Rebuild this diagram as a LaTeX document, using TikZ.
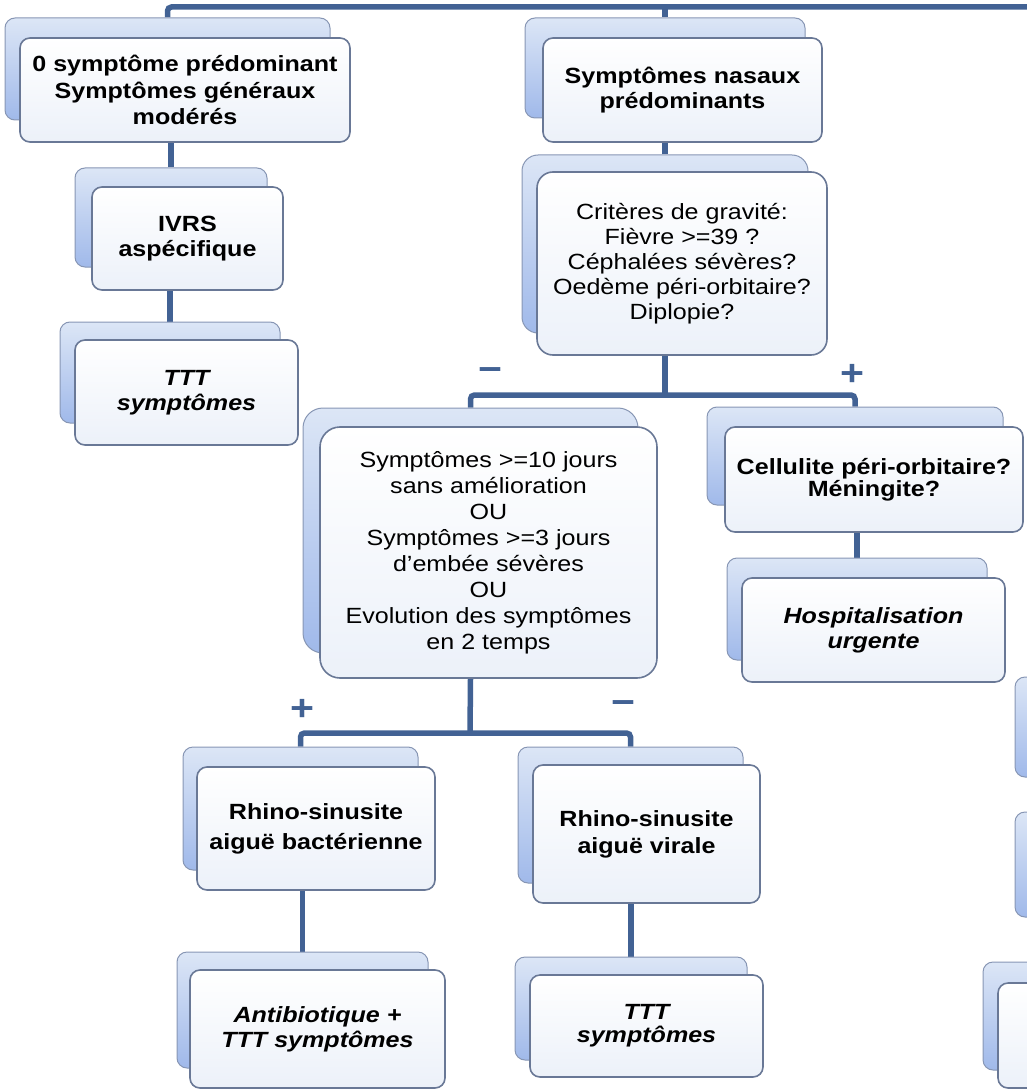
\documentclass[tikz,border=0pt]{standalone}
\usepackage{fontspec}
\setmainfont{Liberation Sans}[FakeStretch=1.14]
\usepackage{tikz}
\usetikzlibrary{backgrounds}

\definecolor{trait}{RGB}{66,98,148}
\definecolor{bordcarte}{RGB}{105,120,150}
\definecolor{basecarte}{RGB}{236,241,249}
\definecolor{bordfond}{RGB}{135,150,180}
\definecolor{hautfond}{RGB}{220,230,246}
\definecolor{basfond}{RGB}{160,185,234}

\tikzset{
  carte/.style={draw=bordcarte, line width=1.6pt, rounded corners=10pt, top color=white, bottom color=basecarte,
    align=center, inner sep=2pt, text=black, font=\fontsize{22}{25}\selectfont\bfseries},
  fond/.style={draw=bordfond, line width=1pt, rounded corners=10pt, top color=hautfond, bottom color=basfond},
  maigre/.style={font=\fontsize{22}{25}\selectfont},
  italique/.style={font=\fontsize{22}{25}\selectfont\bfseries\itshape},
  lien/.style={draw=trait, line width=5.5pt, rounded corners=4pt},
  signe/.style={text=trait, font=\fontsize{36}{36}\selectfont\bfseries, inner sep=0pt}
}

\begin{document}
\begin{tikzpicture}[x=1pt, y=-1pt]
    \useasboundingbox (0,0) rectangle (1026,1091);

    % colonne de gauche
    \node[fond, minimum width=325pt, minimum height=102pt] (zero-f) at (167.5,69) {};
    \node[carte, minimum width=330pt, minimum height=104pt, font=\fontsize{22}{26.5}\selectfont\bfseries] (zero) at (185,90) {0 symptôme prédominant\\Symptômes généraux\\modérés};
    \node[fond, minimum width=192pt, minimum height=99pt] (ivrs-f) at (171,217.5) {};
    \node[carte, minimum width=191pt, minimum height=103pt] (ivrs) at (187.5,238.5) {IVRS\\aspécifique};
    \node[fond, minimum width=220pt, minimum height=101pt] (tttA-f) at (170,372.5) {};
    \node[carte, italique, minimum width=223pt, minimum height=105pt] (tttA) at (186.5,392.5) {TTT\\symptômes};

    % symptomes nasaux
    \node[fond, minimum width=280pt, minimum height=100pt] (nasaux-f) at (665,68) {};
    \node[carte, minimum width=279pt, minimum height=104pt] (nasaux) at (682.5,90) {Symptômes nasaux\\prédominants};
    \node[fond, minimum width=286pt, minimum height=178pt, rounded corners=16pt] (gravite-f) at (665,244) {};
    \node[carte, maigre, minimum width=290pt, minimum height=183pt, rounded corners=16pt] (gravite) at (682,263.5) {Critères de gravité:\\Fièvre >=39 ?\\Céphalées sévères?\\Oedème péri-orbitaire?\\Diplopie?};

    % branche - / +
    \node[fond, minimum width=335pt, minimum height=245pt, rounded corners=20pt] (duree-f) at (470.5,530.5) {};
    \node[carte, maigre, minimum width=337pt, minimum height=251pt, rounded corners=20pt, font=\fontsize{22}{26}\selectfont] (duree) at (488.5,552.5) {Symptômes >=10 jours\\sans amélioration\\OU\\Symptômes >=3 jours\\d'embée sévères\\OU\\Evolution des symptômes\\en 2 temps};
    \node[fond, minimum width=296pt, minimum height=98pt] (cellulite-f) at (855,456) {};
    \node[carte, minimum width=298pt, minimum height=105pt, font=\fontsize{22}{22}\selectfont\bfseries] (cellulite) at (874,479.5) {Cellulite péri-orbitaire?\\Méningite?};
    \node[fond, minimum width=260pt, minimum height=102pt] (urgence-f) at (857,609) {};
    \node[carte, italique, minimum width=263pt, minimum height=104pt] (urgence) at (873.5,630) {Hospitalisation\\urgente};

    % rhino-sinusites
    \node[fond, minimum width=235pt, minimum height=123pt] (bacterie-f) at (300.5,808.5) {};
    \node[carte, minimum width=238pt, minimum height=123pt, font=\fontsize{22}{30}\selectfont\bfseries] (bacterie) at (316,828.5) {Rhino-sinusite\\aiguë bactérienne};
    \node[fond, minimum width=251pt, minimum height=116pt] (antibio-f) at (302.5,1010) {};
    \node[carte, italique, minimum width=255pt, minimum height=118pt] (antibio) at (317.5,1029) {Antibiotique +\\TTT symptômes};
    \node[fond, minimum width=225pt, minimum height=136pt] (virale-f) at (630.5,815) {};
    \node[carte, minimum width=227pt, minimum height=138pt, font=\fontsize{22}{27}\selectfont\bfseries] (virale) at (646.5,834) {Rhino-sinusite\\aiguë virale};
    \node[fond, minimum width=232pt, minimum height=103pt] (tttB-f) at (631,1008.5) {};
    \node[carte, italique, minimum width=233pt, minimum height=102pt, font=\fontsize{22}{23}\selectfont\bfseries\itshape] (tttB) at (646.5,1026) {TTT\\symptômes};

    % cartes coupees a droite
    \node[fond, minimum width=260pt, minimum height=100pt] (droiteA-f) at (1145,727) {};
    \node[fond, minimum width=260pt, minimum height=105pt] (droiteB-f) at (1145,864.5) {};
    \node[fond, minimum width=260pt, minimum height=108pt] (droiteC-f) at (1113,1016) {};
    \node[carte, minimum width=260pt, minimum height=105pt] (droiteC) at (1128,1035.5) {};

    % signes
    \node[signe] (moinsA) at (490,375) {−}; \node[signe] (plusA) at (852,375) {+};
    \node[signe] (plusB) at (302,710) {+}; \node[signe] (moinsB) at (623,708) {−};

    % liens
    \begin{scope}[on background layer]
        \coordinate (bus) at (1040,7);
        \coordinate (brancheA) at (665,395);
        \coordinate (brancheB) at (470,733);
        \draw[lien] (bus) -| (zero-f.north);
        \draw[lien] (nasaux-f.north |- bus) -- (nasaux-f.north);
        \draw[lien] (ivrs-f.north) -- (ivrs-f.north |- zero.south);
        \draw[lien] (tttA-f.north) -- (tttA-f.north |- ivrs.south);
        \draw[lien] (gravite-f.north) -- (gravite-f.north |- nasaux.south);
        \draw[lien] (gravite-f.south |- gravite.south) -- (brancheA);
        \draw[lien] (duree-f.north) |- (brancheA) -| (cellulite-f.north);
        \draw[lien] (urgence-f.north) -- (urgence-f.north |- cellulite.south);
        \draw[lien] (duree-f.south |- duree.south) -- (brancheB);
        \draw[lien] (bacterie-f.north) |- (brancheB) -| (virale-f.north);
        \draw[lien] (antibio-f.north) -- (antibio-f.north |- bacterie.south);
        \draw[lien] (tttB-f.north) -- (tttB-f.north |- virale.south);
    \end{scope}
\end{tikzpicture}
\end{document}
